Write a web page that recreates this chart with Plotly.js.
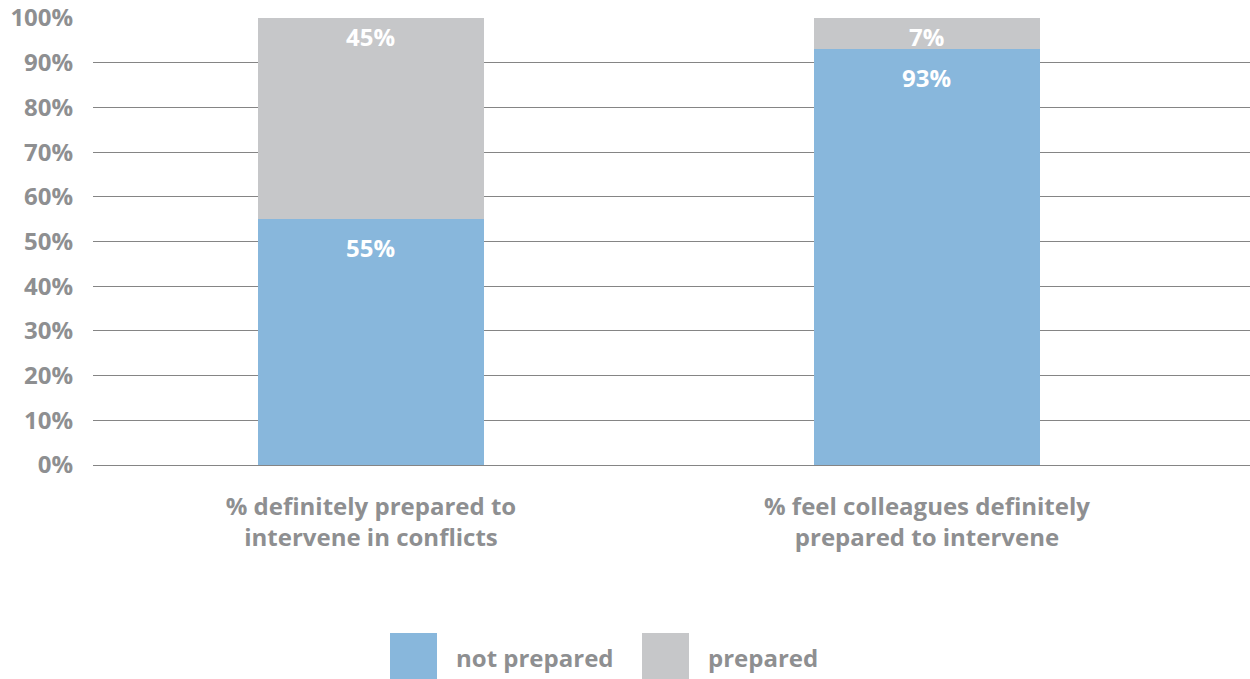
<!DOCTYPE html>
<html>
<head>
<meta charset="utf-8">
<script src="https://cdn.plot.ly/plotly-3.0.1.min.js"></script>
<style>html,body{margin:0;padding:0;background:#fff;}#chart{width:1250px;height:679px;}</style>
</head>
<body>
<div id="chart"></div>
<script>
var categories = ["% definitely prepared to<br>intervene in conflicts", "% feel colleagues definitely<br>prepared to intervene"];
var seriesNames = ["not prepared", "prepared"];
var notPrepared = [55, 93];
var prepared = [45, 7];
var tickValues = [0, 10, 20, 30, 40, 50, 60, 70, 80, 90, 100];
var tickLabels = ["0%", "10%", "20%", "30%", "40%", "50%", "60%", "70%", "80%", "90%", "100%"];

var FONT = "'Open Sans', Roboto, sans-serif";
var GREY_TEXT = "#8e8f91";
var BLUE = "#88b7dc";
var GREY = "#c6c7c9";

var xIdx = categories.map(function (c, i) { return i; });

var traces = [
  { type: "bar", x: xIdx, y: notPrepared, name: seriesNames[0], marker: { color: BLUE }, width: 0.406, hoverinfo: "none" },
  { type: "bar", x: xIdx, y: prepared, name: seriesNames[1], marker: { color: GREY }, width: 0.406, hoverinfo: "none" }
];

var TOP = 18, BOTTOM = 465, PH = BOTTOM - TOP;

var annotations = [];
xIdx.forEach(function (i) {
  annotations.push({ x: i, y: notPrepared[i], xref: "x", yref: "y", yanchor: "top", yshift: -10, showarrow: false,
    text: "<b>" + notPrepared[i] + "%</b>", font: { family: FONT, size: 24, color: "#ffffff" } });
  annotations.push({ x: i, y: notPrepared[i] + prepared[i], xref: "x", yref: "y", yanchor: "top", yshift: 0, showarrow: false,
    text: "<b>" + prepared[i] + "%</b>", font: { family: FONT, size: 24, color: "#ffffff" } });
});

// custom legend (large swatches)
var legendX = [390, 642];
var swatchColors = [BLUE, GREY];
var shapes = [];
seriesNames.forEach(function (n, k) {
  shapes.push({ type: "rect", xref: "paper", yref: "paper", layer: "above",
    x0: (legendX[k] - 93) / 1157, x1: (legendX[k] + 47 - 93) / 1157,
    y0: -(633 - BOTTOM) / PH, y1: -(679 - BOTTOM) / PH,
    line: { width: 0 }, fillcolor: swatchColors[k] });
  annotations.push({ xref: "paper", yref: "paper", x: (legendX[k] + 64 - 93) / 1157, y: -(657 - BOTTOM) / PH,
    xanchor: "left", yanchor: "middle", showarrow: false, text: "<b>" + n + "</b>",
    font: { family: FONT, size: 24, color: GREY_TEXT } });
});

var layout = {
  width: 1250, height: 679,
  margin: { l: 93, r: 0, t: TOP, b: 679 - BOTTOM, pad: 0 },
  paper_bgcolor: "#ffffff", plot_bgcolor: "#ffffff",
  barmode: "stack",
  showlegend: false,
  font: { family: FONT, color: GREY_TEXT },
  xaxis: {
    range: [-0.5, 1.581], tickvals: xIdx, ticktext: categories.map(function (c) { return "<b>" + c + "</b>"; }),
    showgrid: false, zeroline: false, showline: false,
    ticks: "outside", ticklen: 20, tickcolor: "rgba(0,0,0,0)",
    tickfont: { family: FONT, size: 24, color: GREY_TEXT }, fixedrange: true
  },
  yaxis: {
    range: [0, 100], tickvals: tickValues, ticktext: tickLabels.map(function (t) { return "<b>" + t + "</b>"; }),
    showgrid: true, gridcolor: "#858585", gridwidth: 1,
    zeroline: true, zerolinecolor: "#858585", zerolinewidth: 1, showline: false,
    ticks: "outside", ticklen: 14, tickcolor: "rgba(0,0,0,0)", ticklabeloverflow: "allow",
    tickfont: { family: FONT, size: 24, color: GREY_TEXT }, fixedrange: true
  },
  annotations: annotations,
  shapes: shapes
};

Plotly.newPlot("chart", traces, layout, { displayModeBar: false, staticPlot: true });
</script>
</body>
</html>
